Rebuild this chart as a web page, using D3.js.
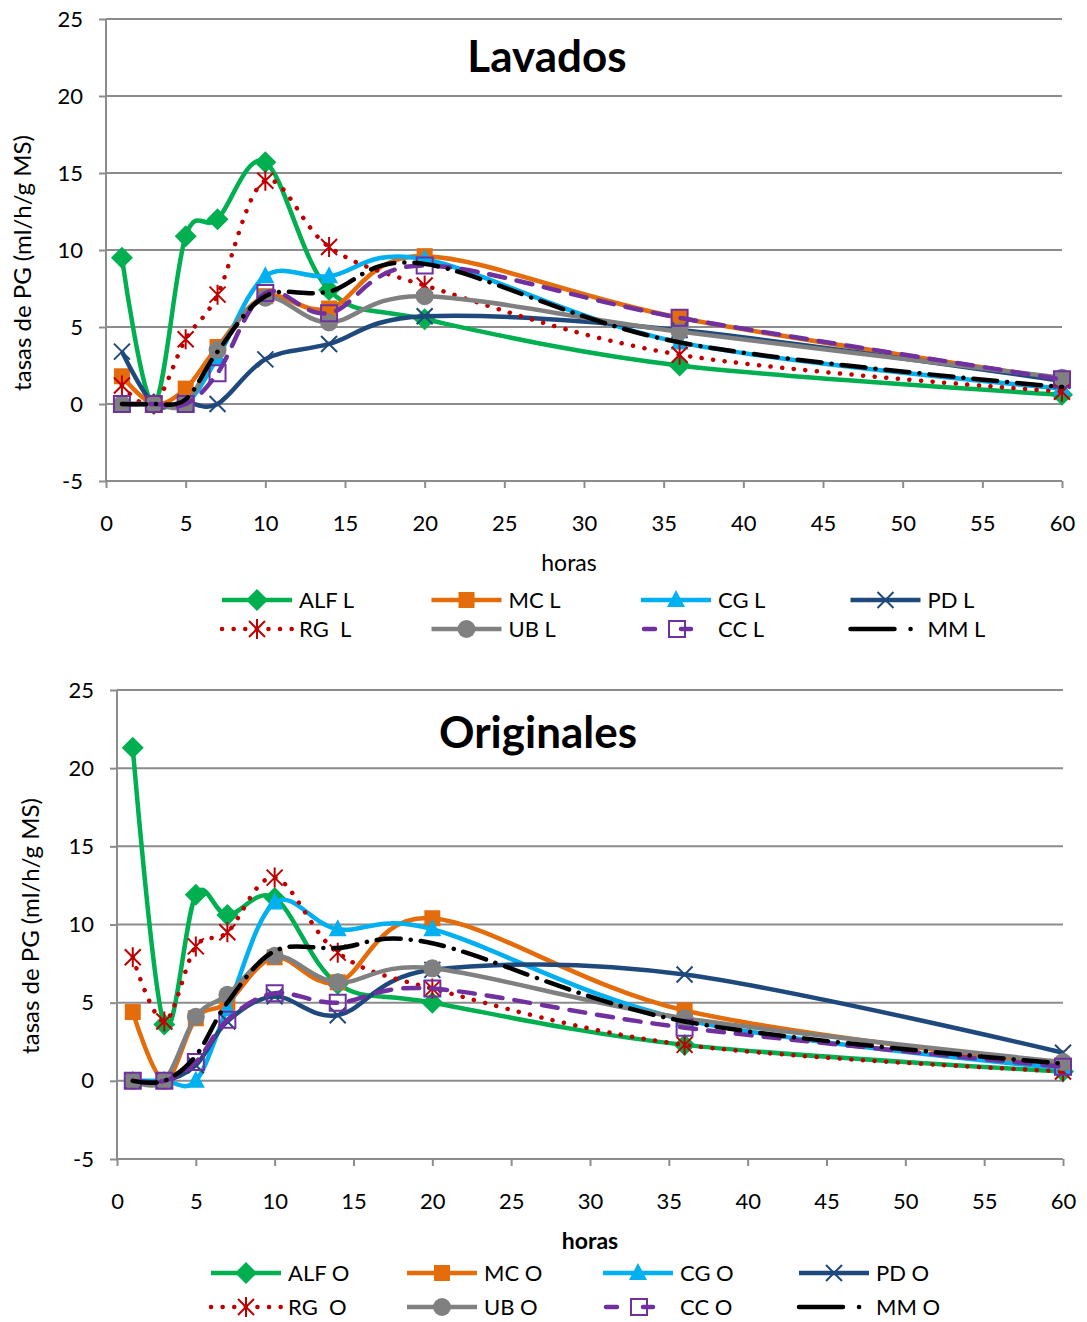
<!DOCTYPE html>
<html lang="es">
<head>
<meta charset="UTF-8">
<title>Tasas de PG</title>
<script src="https://d3js.org/d3.v7.min.js"></script>
<style>
    body { margin: 0; background: #fff; }
    svg text { font-family: Lato, "Open Sans", sans-serif; fill: #000; }
    .tick text { font-size: 22px; }
    .grid line { stroke: #8c8c8c; stroke-width: 2; }
</style>
</head>
<body>
<svg id="chart" width="1087" height="1322"></svg>
<script>
// horas de muestreo
const horas = [1, 3, 5, 7, 10, 14, 20, 36, 60];
const xTicks = [0, 5, 10, 15, 20, 25, 30, 35, 40, 45, 50, 55, 60];
const yTicks = [-5, 0, 5, 10, 15, 20, 25];

const codes = ["ALF", "MC", "CG", "PD", "RG", "UB", "CC", "MM"];
const legendNames = ["ALF", "MC", "CG", "PD", "RG ", "UB", "CC", "MM"];

// Lavados (L)
const lavados = {
    ALF: [9.5, 0, 10.9, 12.0, 15.7, 7.4, 5.5, 2.5, 0.6],
    MC:  [1.8, 0, 1.0, 3.7, 7.0, 6.2, 9.6, 5.6, 1.6],
    CG:  [0, 0, 0, 3.0, 8.3, 8.3, 9.4, 4.0, 1.0],
    PD:  [3.4, 0, 0.1, 0, 2.9, 3.9, 5.7, 4.8, 1.5],
    RG:  [1.2, 0, 4.2, 7.1, 14.5, 10.2, 7.7, 3.2, 0.8],
    UB:  [0, 0, 0, 3.5, 6.9, 5.3, 7.0, 4.7, 1.7],
    CC:  [0, 0, 0, 2.0, 7.2, 5.9, 9.0, 5.6, 1.6],
    MM:  [0, 0, 0.3, 3.4, 7.0, 7.3, 9.1, 4.0, 1.1]
};

// Originales (O)
const originales = {
    ALF: [21.3, 3.6, 11.9, 10.6, 11.7, 6.2, 5.0, 2.3, 0.6],
    MC:  [4.4, 0, 4.0, 5.0, 7.9, 6.3, 10.4, 4.5, 1.0],
    CG:  [0, 0, 0, 4.6, 11.4, 9.7, 9.7, 3.9, 0.8],
    PD:  [0, 0, 1.0, 3.8, 5.4, 4.2, 7.1, 6.8, 1.8],
    RG:  [7.9, 3.8, 8.6, 9.5, 13.0, 8.2, 5.9, 2.3, 0.6],
    UB:  [0, 0, 4.1, 5.5, 8.0, 6.3, 7.2, 4.0, 1.2],
    CC:  [0, 0, 1.2, 3.9, 5.6, 5.0, 5.9, 3.4, 0.9],
    MM:  [0, 0, 1.6, 5.0, 8.3, 8.5, 8.8, 3.8, 1.1]
};

const styles = {
    ALF: { color: "#00B050", marker: "diamond", dash: null },
    MC:  { color: "#E46C0A", marker: "square", dash: null },
    CG:  { color: "#00B0F0", marker: "triangle", dash: null },
    PD:  { color: "#1F497D", marker: "x", dash: null },
    RG:  { color: "#C00000", marker: "asterisk", dash: "0.1 11.5" },
    UB:  { color: "#808080", marker: "circle", dash: null },
    CC:  { color: "#7030A0", marker: "opensquare", dash: "16 12" },
    MM:  { color: "#000000", marker: null, dash: "24 10 0.1 10" }
};

// marker path around 0,0
function markerPath(type) {
    switch (type) {
        case "diamond": return "M0,-11L11,0L0,11L-11,0Z";
        case "square": return "M-8,-8H8V8H-8Z";
        case "opensquare": return "M-8,-8H8V8H-8Z";
        case "triangle": return "M0,-10L9,7H-9Z";
        case "circle": return "M9,0A9,9 0 1,1 -9,0A9,9 0 1,1 9,0Z";
        case "x": return "M-8,-8L8,8M8,-8L-8,8";
        case "asterisk": return "M-8,-8L8,8M8,-8L-8,8M0,-10V10";
    }
    return "";
}

function drawMarker(sel, type, color) {
    const p = sel.append("path").attr("d", markerPath(type));
    if (type === "x" || type === "asterisk" || type === "opensquare") {
        p.attr("fill", "none").attr("stroke", color).attr("stroke-width", 2);
    } else {
        p.attr("fill", color);
    }
}

const svg = d3.select("#chart");

function drawPanel(cfg) {
    const g = svg.append("g");
    const x = d3.scaleLinear().domain([0, 60]).range(cfg.xRange);
    const y = d3.scaleLinear().domain([-5, 25]).range(cfg.yRange);

    // horizontal gridlines
    g.append("g").attr("class", "grid")
        .selectAll("line").data(yTicks.filter(d => d > -5)).enter()
        .append("line")
        .attr("x1", x(0)).attr("x2", x(60))
        .attr("y1", d => y(d)).attr("y2", d => y(d));

    const yAxis = g.append("g")
        .attr("transform", `translate(${x(0)},0)`)
        .call(d3.axisLeft(y).tickValues(yTicks).tickFormat(d => String(d)).tickSize(7).tickPadding(16));
    const xAxis = g.append("g")
        .attr("transform", `translate(0,${y(-5)})`)
        .call(d3.axisBottom(x).tickValues(xTicks).tickFormat(d => String(d)).tickSize(7).tickPadding(27));
    [yAxis, xAxis].forEach(a => {
        a.selectAll("path, line").attr("stroke", "#8c8c8c").attr("stroke-width", 2);
        a.select(".domain").attr("d", a === yAxis
            ? `M0,${y(-5)}V${y(25)}` : `M${x(0)},0H${x(60)}`);
        a.selectAll("text").attr("font-family", "Lato, sans-serif");
    });

    const line = d3.line()
        .x((d, i) => x(horas[i]))
        .y(d => y(d))
        .curve(d3.curveCardinal.tension(0));

    codes.forEach(c => {
        const st = styles[c];
        const vals = cfg.data[c];
        const path = g.append("path")
            .attr("d", line(vals))
            .attr("fill", "none")
            .attr("stroke", st.color)
            .attr("stroke-width", 4.5)
            .attr("stroke-linecap", st.dash ? "round" : "butt");
        if (st.dash) path.attr("stroke-dasharray", st.dash);
        if (st.marker) {
            vals.forEach((v, i) => {
                const m = g.append("g").attr("transform", `translate(${x(horas[i])},${y(v)})`);
                drawMarker(m, st.marker, st.color);
            });
        }
    });

    // title
    g.append("text")
        .attr("x", cfg.titlePos[0]).attr("y", cfg.titlePos[1])
        .attr("text-anchor", "middle")
        .style("font-size", "44px").style("font-weight", "bold")
        .text(cfg.title);

    // axis titles
    g.append("text")
        .attr("transform", `translate(${cfg.yLabelPos[0]},${cfg.yLabelPos[1]}) rotate(-90)`)
        .attr("text-anchor", "middle")
        .style("font-size", "24px")
        .text("tasas de PG (ml/h/g MS)");
    g.append("text")
        .attr("x", cfg.xLabelPos[0]).attr("y", cfg.xLabelPos[1])
        .attr("text-anchor", "middle")
        .style("font-size", "23px")
        .style("font-weight", cfg.xLabelBold ? "bold" : "normal")
        .text("horas");

    // legend
    codes.forEach((c, i) => {
        const st = styles[c];
        const col = i % 4, row = Math.floor(i / 4);
        const lx = cfg.legend.x0 + col * cfg.legend.dx;
        const ly = cfg.legend.y0 + row * cfg.legend.dy;
        const lg = g.append("g").attr("transform", `translate(${lx},${ly})`);
        const seg = lg.append("path")
            .attr("d", "M0,0H70")
            .attr("stroke", st.color)
            .attr("stroke-width", 4.5)
            .attr("stroke-linecap", st.dash ? "round" : "butt");
        if (c === "RG") seg.attr("stroke-dasharray", "0.1 11.5");
        if (c === "CC") seg.attr("d", "M3,0H14M40,0H50");
        if (c === "MM") seg.attr("d", "M0,0H44M60,0H60.1").attr("stroke-dasharray", null);
        if (st.marker) {
            const m = lg.append("g").attr("transform", `translate(${c === "CC" ? 36 : 35},0)`);
            drawMarker(m, st.marker, st.color);
        }
        lg.append("text")
            .attr("x", 77).attr("y", 8)
            .style("font-size", "22px")
            .style("white-space", "pre")
            .text(legendNames[i] + " " + cfg.suffix);
    });
}

drawPanel({
    data: lavados, suffix: "L", title: "Lavados",
    xRange: [106, 1062], yRange: [481, 19],
    titlePos: [547, 72], yLabelPos: [31, 263], xLabelPos: [569, 571], xLabelBold: false,
    legend: { x0: 222, y0: 600, dx: 209.5, dy: 29 }
});

drawPanel({
    data: originales, suffix: "O", title: "Originales",
    xRange: [117, 1063], yRange: [1159, 690],
    titlePos: [538, 748], yLabelPos: [39, 926], xLabelPos: [590, 1249], xLabelBold: true,
    legend: { x0: 211, y0: 1273, dx: 196, dy: 34 }
});
</script>
</body>
</html>
